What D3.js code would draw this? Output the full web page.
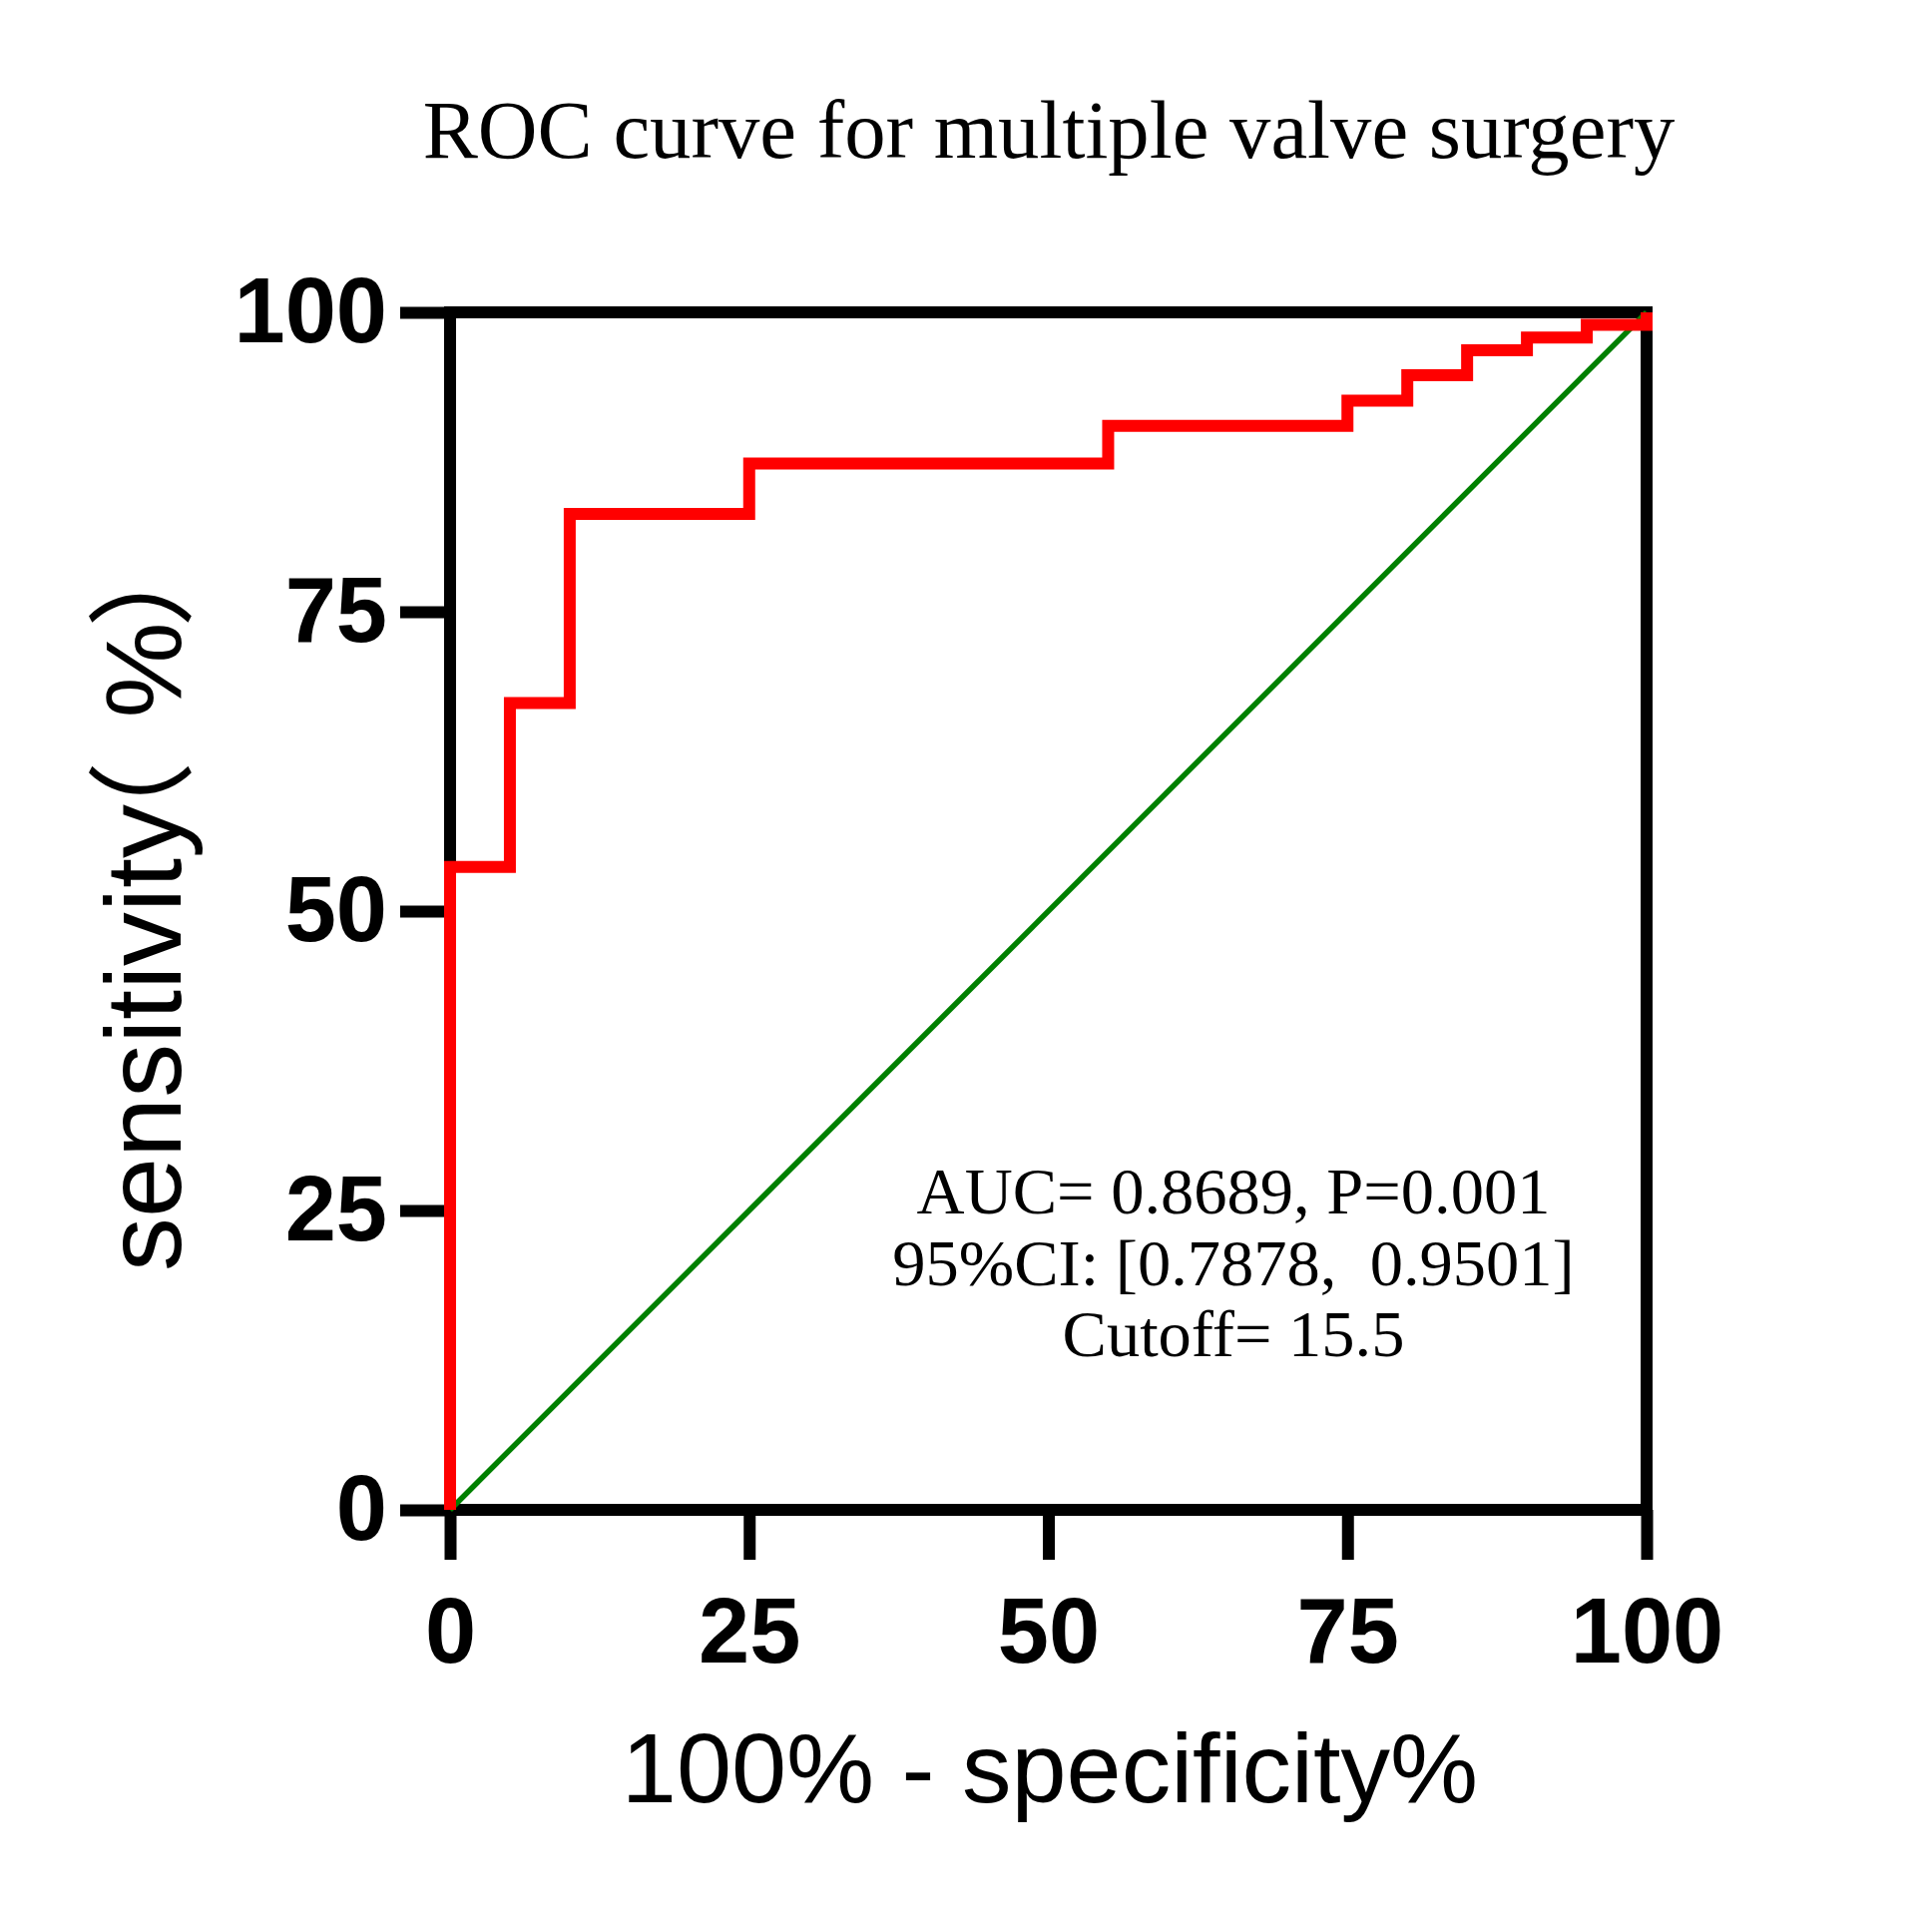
<!DOCTYPE html>
<html>
<head>
<meta charset="utf-8">
<script src="https://cdn.jsdelivr.net/npm/d3@7"></script>
<style>
  html, body { margin: 0; padding: 0; background: #fff; }
  svg { display: block; }
</style>
</head>
<body>
<svg id="chart" width="1936" height="1921"></svg>
<script>
// ---- data ----
const fpr = [0, 0, 5, 10, 25, 55, 75, 80, 85, 90, 95, 100];           // 100% - specificity%
const tpr = [0, 53.68, 67.37, 83.16, 87.37, 90.53, 92.63, 94.74, 96.84, 97.89, 98.95, 100]; // sensitivity %
const refLine = [[0, 0], [100, 100]];
const xTicks = [0, 25, 50, 75, 100];
const yTicks = [0, 25, 50, 75, 100];
const titleText = "ROC curve for multiple valve surgery";
const xLabel = "100% - specificity%";
const yLabelParts = ["sensitivity", "（", "%", "）"];
const annotation = ["AUC= 0.8689, P=0.001", "95%CI: [0.7878,  0.9501]", "Cutoff= 15.5"];

// ---- layout ----
const pL = 451, pR = 1650, pT = 313, pB = 1513;
const svg = d3.select("#chart");
const x = d3.scaleLinear().domain([0, 100]).range([pL, pR]);
const y = d3.scaleLinear().domain([0, 100]).range([pB, pT]);

const sans = "'Liberation Sans', Arial, 'Noto Sans CJK SC', sans-serif";
const serif = "'Liberation Serif', 'Times New Roman', serif";

// title
svg.append("text")
  .attr("x", 1051).attr("y", 158)
  .attr("text-anchor", "middle")
  .style("font-family", serif).style("font-size", "82.7px")
  .text(titleText);

// frame
svg.append("rect")
  .attr("x", x(0)).attr("y", y(100))
  .attr("width", x(100) - x(0)).attr("height", y(0) - y(100))
  .attr("fill", "none").attr("stroke", "#000").attr("stroke-width", 12)
  .attr("stroke-linejoin", "miter");

// axes
const xAxis = d3.axisBottom(x).tickValues(xTicks).tickSize(50).tickSizeOuter(0).tickPadding(38);
const gx = svg.append("g").attr("transform", `translate(0,${pB})`).call(xAxis);
const yAxis = d3.axisLeft(y).tickValues(yTicks).tickSize(50).tickSizeOuter(0).tickPadding(13);
const gy = svg.append("g").attr("transform", `translate(${pL},0)`).call(yAxis);
[gx, gy].forEach(g => {
  g.select(".domain").remove();
  g.selectAll(".tick line").attr("stroke", "#000").attr("stroke-width", 12);
  g.selectAll(".tick text")
    .attr("fill", "#000")
    .style("font-family", sans).style("font-weight", "bold").style("font-size", "92px");
});

// reference diagonal
svg.append("path")
  .datum(refLine)
  .attr("d", d3.line().x(d => x(d[0])).y(d => y(d[1])))
  .attr("fill", "none").attr("stroke", "#008000").attr("stroke-width", 5.5);

// ROC curve
const pts = fpr.map((v, i) => [v, tpr[i]]);
svg.append("path")
  .datum(pts)
  .attr("d", d3.line().x(d => x(d[0])).y(d => y(d[1])).curve(d3.curveStepAfter))
  .attr("fill", "none").attr("stroke", "#ff0000").attr("stroke-width", 12)
  .attr("stroke-linejoin", "miter").attr("stroke-linecap", "butt");

// annotation
const ann = svg.append("text")
  .attr("text-anchor", "middle")
  .style("font-family", serif).style("font-size", "66.5px")
  .style("white-space", "pre").attr("xml:space", "preserve");
annotation.forEach((t, i) => {
  ann.append("tspan").attr("x", 1236).attr("y", 1216 + i * 71.5).text(t);
});

// axis titles
svg.append("text")
  .attr("x", 1052).attr("y", 1806)
  .attr("text-anchor", "middle")
  .style("font-family", sans).style("font-size", "99px")
  .text(xLabel);

const yt = svg.append("text")
  .attr("transform", "translate(181,1274) rotate(-90)")
  .attr("text-anchor", "start")
  .style("font-family", sans).style("font-size", "108px");
const yDx = ["0", "-0.6em", "0.4em", "-0.05em"];
yLabelParts.forEach((t, i) => {
  yt.append("tspan").attr("dx", yDx[i]).text(t);
});
</script>
</body>
</html>
